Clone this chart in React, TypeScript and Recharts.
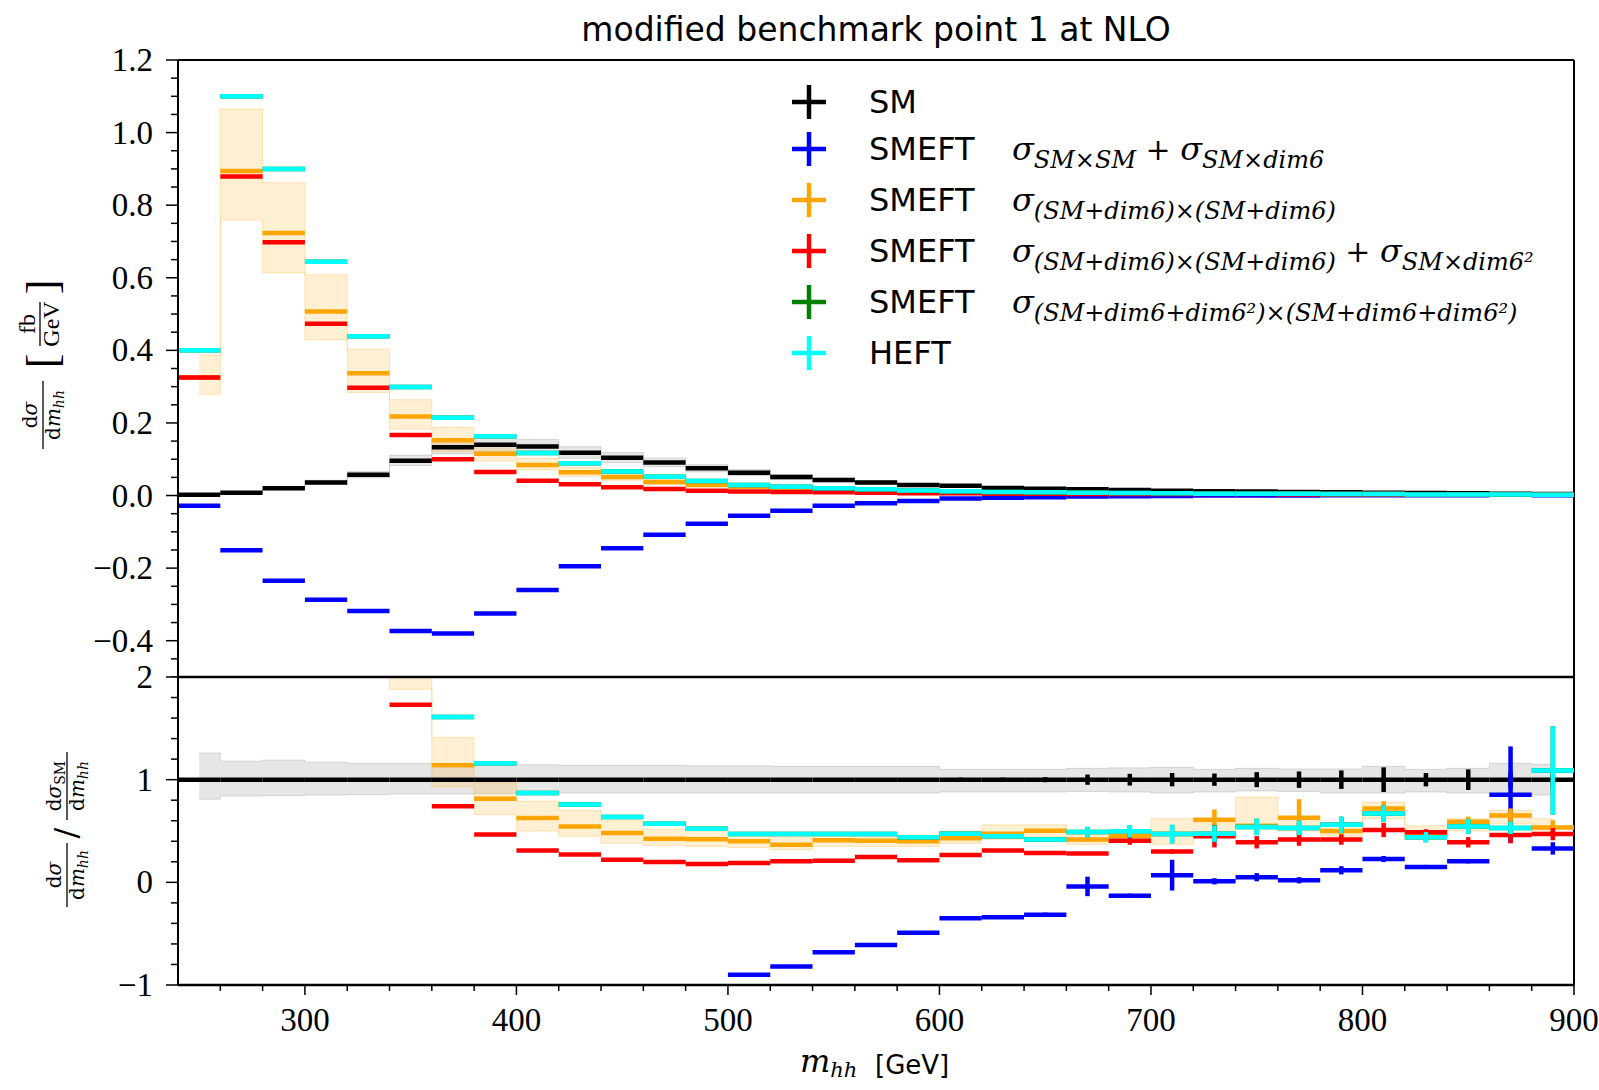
import React from 'react';
import { ComposedChart, Scatter, ErrorBar, Area, XAxis, YAxis, ReferenceLine } from 'recharts';

// bin centres in GeV (20 GeV bins)
const binCenters = [250, 270, 290, 310, 330, 350, 370, 390, 410, 430, 450, 470, 490, 510, 530, 550, 570, 590, 610, 630, 650, 670, 690, 710, 730, 750, 770, 790, 810, 830, 850, 870, 890];
const binHalfWidth = 10;

// upper panel: dsigma/dm_hh in fb/GeV
const smTop = [0.002, 0.008, 0.020, 0.036, 0.057, 0.096, 0.133, 0.140, 0.135, 0.118, 0.104, 0.091, 0.075, 0.063, 0.051, 0.043, 0.036, 0.029, 0.027, 0.021, 0.019, 0.017, 0.015, 0.013, 0.012, 0.011, 0.010, 0.009, 0.008, 0.007, 0.006, 0.005, 0.004];
const smeftLinTop = [-0.028, -0.151, -0.235, -0.287, -0.318, -0.373, -0.380, -0.325, -0.260, -0.195, -0.145, -0.108, -0.078, -0.056, -0.042, -0.028, -0.021, -0.015, -0.008, -0.006, -0.005, -0.003, -0.002, -0.001, 0.000, 0.000, 0.000, 0.001, 0.001, 0.001, 0.001, 0.002, 0.001];
const smeftQuadTop = [0.325, 0.894, 0.723, 0.507, 0.337, 0.218, 0.152, 0.115, 0.084, 0.064, 0.051, 0.037, 0.029, 0.024, 0.019, 0.016, 0.013, 0.011, 0.010, 0.008, 0.008, 0.007, 0.006, 0.006, 0.005, 0.005, 0.005, 0.004, 0.004, 0.003, 0.003, 0.003, 0.002];
const smeftQuadPlusTop = [0.325, 0.879, 0.698, 0.473, 0.297, 0.167, 0.100, 0.065, 0.041, 0.031, 0.023, 0.018, 0.013, 0.011, 0.010, 0.009, 0.008, 0.006, 0.006, 0.005, 0.005, 0.004, 0.004, 0.004, 0.004, 0.004, 0.003, 0.003, 0.003, 0.003, 0.002, 0.002, 0.002];
const heftTop = [0.400, 1.100, 0.900, 0.644, 0.439, 0.299, 0.214, 0.163, 0.117, 0.089, 0.066, 0.052, 0.040, 0.029, 0.024, 0.020, 0.017, 0.014, 0.012, 0.010, 0.009, 0.008, 0.007, 0.006, 0.005, 0.005, 0.005, 0.004, 0.004, 0.003, 0.003, 0.003, 0.002];
// full dim6^2 squared coincides with HEFT
const smeftFullTop = heftTop;
const quadBandLoTop = [0.279, 0.759, 0.614, 0.429, 0.284, 0.183, 0.121, 0.095, 0.070, 0.053, 0.042, 0.031, 0.025, 0.020, 0.016, 0.014, 0.012, 0.010, 0.009, 0.008, 0.007, 0.006, 0.005, 0.005, 0.004, 0.004, 0.004, 0.003, 0.003, 0.003, 0.002, 0.002, 0.002];
const quadBandHiTop = [0.387, 1.065, 0.862, 0.608, 0.403, 0.264, 0.188, 0.140, 0.102, 0.078, 0.062, 0.046, 0.036, 0.029, 0.023, 0.019, 0.016, 0.013, 0.012, 0.010, 0.009, 0.008, 0.007, 0.007, 0.006, 0.006, 0.006, 0.005, 0.005, 0.004, 0.004, 0.004, 0.003];

// lower panel: ratio to SM
const smRatio = binCenters.map(() => 1);
const smRatioErr = [0.015, 0.015, 0.015, 0.012, 0.012, 0.01, 0.01, 0.01, 0.01, 0.01, 0.01, 0.01, 0.01, 0.01, 0.01, 0.012, 0.012, 0.015, 0.02, 0.02, 0.025, 0.05, 0.057, 0.065, 0.06, 0.073, 0.08, 0.09, 0.12, 0.065, 0.10, 0.08, 0.08];
const smBandLo = [0.81, 0.84, 0.845, 0.85, 0.855, 0.86, 0.86, 0.865, 0.87, 0.87, 0.87, 0.87, 0.87, 0.87, 0.87, 0.87, 0.87, 0.87, 0.88, 0.88, 0.88, 0.885, 0.88, 0.87, 0.88, 0.89, 0.885, 0.87, 0.87, 0.88, 0.87, 0.854, 0.85];
const smBandHi = [1.26, 1.18, 1.19, 1.17, 1.16, 1.16, 1.155, 1.15, 1.145, 1.14, 1.14, 1.14, 1.135, 1.135, 1.13, 1.13, 1.13, 1.13, 1.10, 1.10, 1.10, 1.11, 1.115, 1.12, 1.10, 1.11, 1.105, 1.105, 1.13, 1.10, 1.11, 1.16, 1.15];
const smeftLinRatio = [null, null, null, null, null, null, null, null, null, null, null, null, null, -0.90, -0.82, -0.68, -0.61, -0.49, -0.35, -0.34, -0.315, -0.04, -0.13, 0.07, 0.01, 0.05, 0.02, 0.117, 0.227, 0.15, 0.205, 0.854, 0.33];
const smeftLinRatioErr = [0, 0, 0, 0, 0, 0, 0, 0, 0, 0, 0, 0, 0, 0.01, 0.01, 0.01, 0.01, 0.01, 0.015, 0.015, 0.02, 0.095, 0.02, 0.15, 0.03, 0.04, 0.03, 0.04, 0.03, 0.02, 0.02, 0.47, 0.06];
const smeftQuadRatio = [null, null, null, null, null, null, 1.14, 0.815, 0.627, 0.545, 0.48, 0.425, 0.42, 0.40, 0.367, 0.41, 0.405, 0.40, 0.43, 0.474, 0.503, 0.416, 0.45, 0.47, 0.61, 0.55, 0.63, 0.50, 0.72, 0.47, 0.59, 0.65, 0.535];
const smeftQuadRatioErr = [0, 0, 0, 0, 0, 0, 0.01, 0.01, 0.01, 0.01, 0.01, 0.01, 0.01, 0.01, 0.01, 0.01, 0.01, 0.01, 0.01, 0.01, 0.01, 0.02, 0.03, 0.03, 0.10, 0.04, 0.18, 0.05, 0.07, 0.04, 0.05, 0.07, 0.07];
const smeftQuadPlusRatio = [null, null, null, null, null, 1.73, 0.74, 0.467, 0.309, 0.27, 0.22, 0.198, 0.179, 0.189, 0.205, 0.21, 0.247, 0.214, 0.267, 0.31, 0.286, 0.28, 0.406, 0.30, 0.45, 0.39, 0.416, 0.416, 0.51, 0.487, 0.39, 0.46, 0.47];
const smeftQuadPlusRatioErr = [0, 0, 0, 0, 0, 0.01, 0.01, 0.01, 0.01, 0.01, 0.01, 0.01, 0.01, 0.01, 0.01, 0.01, 0.01, 0.01, 0.01, 0.01, 0.01, 0.01, 0.04, 0.02, 0.11, 0.06, 0.06, 0.05, 0.07, 0.03, 0.05, 0.08, 0.06];
const heftRatio = [null, null, null, null, null, null, 1.61, 1.16, 0.87, 0.757, 0.637, 0.571, 0.523, 0.47, 0.47, 0.47, 0.47, 0.44, 0.474, 0.448, 0.416, 0.49, 0.497, 0.47, 0.474, 0.54, 0.53, 0.56, 0.67, 0.44, 0.545, 0.53, 1.09];
const heftRatioErr = [0, 0, 0, 0, 0, 0, 0.01, 0.01, 0.01, 0.01, 0.01, 0.01, 0.01, 0.01, 0.01, 0.01, 0.01, 0.01, 0.01, 0.01, 0.01, 0.05, 0.06, 0.09, 0.08, 0.08, 0.07, 0.08, 0.08, 0.05, 0.07, 0.06, 0.43];
const smeftFullRatio = heftRatio;
const smeftFullRatioErr = heftRatioErr;
const quadBandLoRatio = [139, 95, 31, 12, 5.0, 1.88, 0.93, 0.66, 0.50, 0.45, 0.38, 0.36, 0.35, 0.34, 0.32, 0.35, 0.35, 0.35, 0.38, 0.42, 0.44, 0.37, 0.40, 0.37, 0.45, 0.56, 0.50, 0.45, 0.62, 0.42, 0.50, 0.57, 0.46];
const quadBandHiRatio = [193, 133, 43, 17, 7.1, 2.75, 1.41, 0.97, 0.79, 0.70, 0.60, 0.52, 0.50, 0.47, 0.44, 0.47, 0.46, 0.46, 0.50, 0.56, 0.56, 0.47, 0.50, 0.62, 0.58, 0.83, 0.62, 0.58, 0.78, 0.55, 0.62, 0.70, 0.62];

// axis ticks
const xMajor = [300, 400, 500, 600, 700, 800, 900];
const xTicks = [260, 280, 300, 320, 340, 360, 380, 400, 420, 440, 460, 480, 500, 520, 540, 560, 580, 600, 620, 640, 660, 680, 700, 720, 740, 760, 780, 800, 820, 840, 860, 880, 900];
const yMajorTop = [-0.4, -0.2, 0, 0.2, 0.4, 0.6, 0.8, 1.0, 1.2];
const yLabelsTop = ['\u22120.4', '\u22120.2', '0.0', '0.2', '0.4', '0.6', '0.8', '1.0', '1.2'];
const yMajorBot = [-1, 0, 1, 2];
const yLabelsBot = ['\u22121', '0', '1', '2'];

const yTicksTop: number[] = [];
for (let k = -10; k <= 24; k++) yTicksTop.push(Number((k * 0.05).toFixed(2)));
const yTicksBot: number[] = [];
for (let k = -5; k <= 10; k++) yTicksBot.push(Number((k * 0.2).toFixed(1)));

const COLORS = {
  sm: '#000000',
  lin: '#0000ff',
  quad: '#ffa500',
  quadPlus: '#ff0000',
  full: '#008000',
  heft: '#00ffff',
};

const legendLabels = ['SM', 'SMEFT', 'SMEFT', 'SMEFT', 'SMEFT', 'HEFT'];
const legendColors = [COLORS.sm, COLORS.lin, COLORS.quad, COLORS.quadPlus, COLORS.full, COLORS.heft];
const legendFormulas: [string, string][][] = [
  [],
  [['σ', 'm'], ['SM×SM', 's'], [' + ', 'p'], ['σ', 'm'], ['SM×dim6', 's']],
  [['σ', 'm'], ['(SM+dim6)×(SM+dim6)', 's']],
  [['σ', 'm'], ['(SM+dim6)×(SM+dim6)', 's'], [' + ', 'p'], ['σ', 'm'], ['SM×dim6²', 's']],
  [['σ', 'm'], ['(SM+dim6+dim6²)×(SM+dim6+dim6²)', 's']],
  [],
];
const legendRowY = [102, 149, 200, 251, 302, 353];

const W = 1599;
const MARGIN_LEFT = 118;
const Y_AXIS_W = 60;
const MARGIN_RIGHT = 25;
const LW = 4.5;
const TICK_FONT = 'Liberation Serif';
const MATH_FONT = 'DejaVu Serif';
const SANS = 'DejaVu Sans';

type Row = { x: number; y: number; xe: number; ye: number };

function toRows(vals: (number | null)[], errs?: number[]): Row[] {
  const out: Row[] = [];
  binCenters.forEach((x, i) => {
    const v = vals[i];
    if (v === null || v === undefined) return;
    out.push({ x, y: v, xe: binHalfWidth, ye: errs ? errs[i] : 0 });
  });
  return out;
}

const topBands = binCenters.map((x, i) => ({
  x,
  quadBand: [quadBandLoTop[i], quadBandHiTop[i]],
  smBand: [smTop[i] * smBandLo[i], smTop[i] * smBandHi[i]],
}));
const botBands = binCenters.map((x, i) => ({
  x,
  quadBand: [quadBandLoRatio[i], quadBandHiRatio[i]],
  smBand: [smBandLo[i], smBandHi[i]],
}));

const noDot = () => <g />;

function series(key: string, rows: Row[], color: string, withYErr: boolean) {
  return (
    <Scatter key={key} data={rows} dataKey="y" fill={color} shape={noDot} isAnimationActive={false}>
      <ErrorBar dataKey="xe" direction="x" width={0} stroke={color} strokeWidth={LW} isAnimationActive={false} />
      {withYErr && (
        <ErrorBar dataKey="ye" direction="y" width={0} stroke={color} strokeWidth={LW} isAnimationActive={false} />
      )}
    </Scatter>
  );
}

function XTick(props: any) {
  const { x, y, payload } = props;
  const v = payload.value;
  const major = xMajor.includes(v);
  return (
    <g>
      <line x1={x} x2={x} y1={y} y2={y + (major ? 10 : 6)} stroke="#000" strokeWidth={1.5} />
      {major && (
        <text x={x} y={y + 46} textAnchor="middle" fontFamily={TICK_FONT} fontSize={33} fill="#000">
          {v}
        </text>
      )}
    </g>
  );
}

function makeYTick(majors: number[], labels: string[]) {
  return (props: any) => {
    const { x, y, payload } = props;
    const v = payload.value;
    const idx = majors.findIndex((m) => Math.abs(m - v) < 1e-6);
    const major = idx >= 0;
    return (
      <g>
        <line x1={x - (major ? 12 : 7)} x2={x} y1={y} y2={y} stroke="#000" strokeWidth={1.5} />
        {major && (
          <text x={x - 25} y={y + 11} textAnchor="end" fontFamily={TICK_FONT} fontSize={33} fill="#000">
            {labels[idx]}
          </text>
        )}
      </g>
    );
  };
}

function Formula({ parts, x, y }: { parts: [string, string][]; x: number; y: number }) {
  let cur = 0;
  return (
    <text x={x} y={y} fontFamily={MATH_FONT} fill="#000">
      {parts.map(([t, k], i) => {
        const target = k === 's' ? 8 : 0;
        const dy = target - cur;
        cur = target;
        return (
          <tspan
            key={i}
            dy={dy}
            fontSize={k === 's' ? 24 : k === 'p' ? 30 : 32}
            fontStyle={k === 'p' ? 'normal' : 'italic'}
            style={{ whiteSpace: 'pre' }}
          >
            {t}
          </tspan>
        );
      })}
    </text>
  );
}

function Overlay() {
  return (
    <svg width={W} height={1090} style={{ position: 'absolute', left: 0, top: 0, pointerEvents: 'none' }}>
      <text x={876} y={41} textAnchor="middle" fontFamily={SANS} fontSize={33} fill="#000">
        modified benchmark point 1 at NLO
      </text>

      {legendLabels.map((lab, i) => {
        const cy = legendRowY[i];
        return (
          <g key={i}>
            <line x1={792} x2={826} y1={cy} y2={cy} stroke={legendColors[i]} strokeWidth={LW} />
            <line x1={809} x2={809} y1={cy - 17} y2={cy + 17} stroke={legendColors[i]} strokeWidth={LW} />
            <text x={869} y={cy + 11} fontFamily={SANS} fontSize={32} fill="#000">
              {lab}
            </text>
            {legendFormulas[i].length > 0 && <Formula parts={legendFormulas[i]} x={1012} y={cy + 11} />}
          </g>
        );
      })}

      {/* upper y label */}
      <g transform="translate(43,371) rotate(-90)" fontFamily={MATH_FONT} fill="#000">
        <text x={-44} y={-6} textAnchor="middle" fontSize={20}>
          d<tspan fontStyle="italic">σ</tspan>
        </text>
        <line x1={-78} x2={-10} y1={0} y2={0} stroke="#000" strokeWidth={1.3} />
        <text x={-44} y={17} textAnchor="middle" fontSize={20}>
          d<tspan fontStyle="italic">m</tspan>
          <tspan fontStyle="italic" fontSize={14} dy={4}>hh</tspan>
        </text>
        <text x={10} y={14} textAnchor="middle" fontSize={44} fontFamily={TICK_FONT}>[</text>
        <text x={47} y={-8} textAnchor="middle" fontSize={24} fontFamily={TICK_FONT}>fb</text>
        <line x1={25} x2={69} y1={-3} y2={-3} stroke="#000" strokeWidth={1.3} />
        <text x={47} y={16} textAnchor="middle" fontSize={24} fontFamily={TICK_FONT}>GeV</text>
        <text x={84} y={14} textAnchor="middle" fontSize={44} fontFamily={TICK_FONT}>]</text>
      </g>

      {/* lower y label */}
      <g transform="translate(67,831) rotate(-90)" fontFamily={MATH_FONT} fill="#000">
        <text x={-44} y={-6} textAnchor="middle" fontSize={20}>
          d<tspan fontStyle="italic">σ</tspan>
        </text>
        <line x1={-76} x2={-12} y1={0} y2={0} stroke="#000" strokeWidth={1.3} />
        <text x={-44} y={17} textAnchor="middle" fontSize={20}>
          d<tspan fontStyle="italic">m</tspan>
          <tspan fontStyle="italic" fontSize={14} dy={4}>hh</tspan>
        </text>
        <text x={-2} y={10} textAnchor="middle" fontSize={32}>/</text>
        <text x={45} y={-6} textAnchor="middle" fontSize={20}>
          d<tspan fontStyle="italic">σ</tspan>
          <tspan fontSize={14} dy={4}>SM</tspan>
        </text>
        <line x1={11} x2={79} y1={0} y2={0} stroke="#000" strokeWidth={1.3} />
        <text x={45} y={17} textAnchor="middle" fontSize={20}>
          d<tspan fontStyle="italic">m</tspan>
          <tspan fontStyle="italic" fontSize={14} dy={4}>hh</tspan>
        </text>
      </g>

      {/* x label */}
      <text x={800} y={1072} fontFamily={MATH_FONT} fontStyle="italic" fontSize={32} fill="#000">
        m<tspan fontSize={21} dy={5}>hh</tspan>
      </text>
      <text x={875} y={1074} fontFamily={SANS} fontSize={26} fill="#000">
        [GeV]
      </text>
    </svg>
  );
}

export default function App() {
  const topH = 677;
  const botPad = 24;
  const botPlotH = 308;
  const xAxisH = 60;
  return (
    <div style={{ position: 'absolute', left: 0, top: 0, width: W, height: 1090, background: '#fff' }}>
      <div style={{ position: 'absolute', left: 0, top: 0 }}>
        <ComposedChart
          width={W}
          height={topH}
          data={topBands}
          margin={{ top: 60, right: MARGIN_RIGHT, bottom: 0, left: MARGIN_LEFT }}
        >
          <XAxis
            type="number"
            dataKey="x"
            domain={[240, 900]}
            allowDataOverflow
            ticks={xTicks}
            tick={false}
            tickLine={false}
            height={0}
            axisLine={{ stroke: '#000', strokeWidth: 2.5 }}
          />
          <YAxis
            type="number"
            domain={[-0.5, 1.2]}
            allowDataOverflow
            ticks={yTicksTop}
            interval={0}
            tick={makeYTick(yMajorTop, yLabelsTop)}
            tickLine={false}
            tickSize={0}
            tickMargin={0}
            width={Y_AXIS_W}
            axisLine={{ stroke: '#000', strokeWidth: 2 }}
          />
          <ReferenceLine y={1.2} stroke="#000" strokeWidth={2} />
          <ReferenceLine x={900} stroke="#000" strokeWidth={2} />
          <Area type="step" dataKey="smBand" stroke="#808080" strokeOpacity={0.25} fill="#808080" fillOpacity={0.2} isAnimationActive={false} dot={false} activeDot={false} />
          <Area type="step" dataKey="quadBand" stroke="#ffa500" strokeOpacity={0.25} fill="#ffa500" fillOpacity={0.17} isAnimationActive={false} dot={false} activeDot={false} />
          {series('sm', toRows(smTop), COLORS.sm, false)}
          {series('lin', toRows(smeftLinTop), COLORS.lin, false)}
          {series('quad', toRows(smeftQuadTop), COLORS.quad, false)}
          {series('quadPlus', toRows(smeftQuadPlusTop), COLORS.quadPlus, false)}
          {series('full', toRows(smeftFullTop), COLORS.full, false)}
          {series('heft', toRows(heftTop), COLORS.heft, false)}
        </ComposedChart>
      </div>
      <div style={{ position: 'absolute', left: 0, top: topH - botPad }}>
        <ComposedChart
          width={W}
          height={botPad + botPlotH + xAxisH}
          data={botBands}
          margin={{ top: botPad, right: MARGIN_RIGHT, bottom: 0, left: MARGIN_LEFT }}
        >
          <XAxis
            type="number"
            dataKey="x"
            domain={[240, 900]}
            allowDataOverflow
            ticks={xTicks}
            interval={0}
            tick={XTick}
            tickLine={false}
            tickSize={0}
            tickMargin={0}
            height={xAxisH}
            axisLine={{ stroke: '#000', strokeWidth: 2.5 }}
          />
          <YAxis
            type="number"
            domain={[-1, 2]}
            allowDataOverflow
            ticks={yTicksBot}
            interval={0}
            tick={makeYTick(yMajorBot, yLabelsBot)}
            tickLine={false}
            tickSize={0}
            tickMargin={0}
            width={Y_AXIS_W}
            axisLine={{ stroke: '#000', strokeWidth: 2 }}
          />
          <ReferenceLine y={2} stroke="#000" strokeWidth={2.5} />
          <ReferenceLine x={900} stroke="#000" strokeWidth={2} />
          <Area type="step" dataKey="smBand" stroke="#808080" strokeOpacity={0.25} fill="#808080" fillOpacity={0.2} isAnimationActive={false} dot={false} activeDot={false} />
          <Area type="step" dataKey="quadBand" stroke="#ffa500" strokeOpacity={0.25} fill="#ffa500" fillOpacity={0.17} isAnimationActive={false} dot={false} activeDot={false} />
          {series('sm', toRows(smRatio, smRatioErr), COLORS.sm, true)}
          {series('lin', toRows(smeftLinRatio, smeftLinRatioErr), COLORS.lin, true)}
          {series('quad', toRows(smeftQuadRatio, smeftQuadRatioErr), COLORS.quad, true)}
          {series('quadPlus', toRows(smeftQuadPlusRatio, smeftQuadPlusRatioErr), COLORS.quadPlus, true)}
          {series('full', toRows(smeftFullRatio, smeftFullRatioErr), COLORS.full, true)}
          {series('heft', toRows(heftRatio, heftRatioErr), COLORS.heft, true)}
        </ComposedChart>
      </div>
      <Overlay />
    </div>
  );
}
